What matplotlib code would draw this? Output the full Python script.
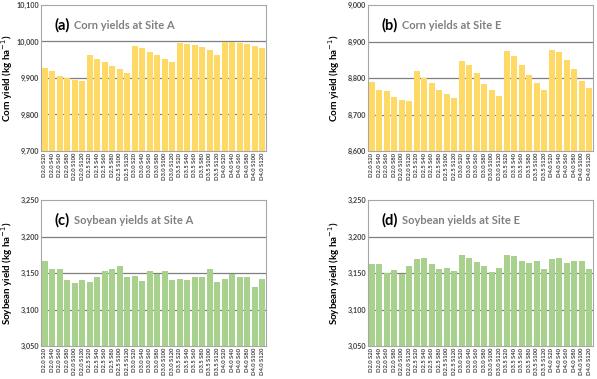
import numpy as np
import matplotlib
matplotlib.use('Agg')
import matplotlib.pyplot as plt

plt.rcParams['font.family'] = ['Lato', 'DejaVu Sans']

depths = ['D2.0', 'D2.5', 'D3.0', 'D3.5', 'D4.0']
spacings = ['S20', 'S40', 'S60', 'S80', 'S100', 'S120']
labels = [f'{d} {s}' for d in depths for s in spacings]

corn_a = [9928, 9919, 9906, 9900, 9894, 9891,
          9963, 9953, 9944, 9934, 9925, 9914,
          9988, 9983, 9972, 9964, 9952, 9944,
          9996, 9994, 9990, 9984, 9977, 9964,
          9999, 9999, 9995, 9993, 9987, 9982]
corn_e = [8790, 8768, 8764, 8748, 8740, 8736,
          8819, 8800, 8786, 8768, 8757, 8744,
          8847, 8835, 8813, 8784, 8767, 8750,
          8873, 8859, 8836, 8809, 8786, 8768,
          8878, 8871, 8848, 8824, 8793, 8772]
soy_a = [3166, 3155, 3155, 3140, 3136, 3141,
         3138, 3145, 3153, 3156, 3159, 3145,
         3146, 3139, 3153, 3149, 3153, 3140,
         3142, 3140, 3144, 3145, 3155, 3138,
         3142, 3148, 3145, 3145, 3131, 3142]
soy_e = [3162, 3162, 3150, 3154, 3148, 3160,
         3169, 3170, 3163, 3156, 3157, 3153,
         3174, 3171, 3165, 3160, 3151, 3157,
         3174, 3173, 3167, 3164, 3167, 3156,
         3169, 3171, 3164, 3166, 3167, 3156]

panels = [
    ('(a)', 'Corn yields at Site A', corn_a, (9700, 10100), 100, '#FFD966', 'Corn yield (kg ha$^{-1}$)'),
    ('(b)', 'Corn yields at Site E', corn_e, (8600, 9000), 100, '#FFD966', 'Corn yield (kg ha$^{-1}$)'),
    ('(c)', 'Soybean yields at Site A', soy_a, (3050, 3250), 50, '#A9D18E', 'Soybean yield (kg ha$^{-1}$)'),
    ('(d)', 'Soybean yields at Site E', soy_e, (3050, 3250), 50, '#A9D18E', 'Soybean yield (kg ha$^{-1}$)'),
]

W, H = 597, 379
fig = plt.figure(figsize=(W / 100, H / 100), dpi=100)
boxes = [(41, 5), (368, 5), (41, 200), (368, 200)]
aw, ah = 225, 146

x = np.arange(len(labels))
for (tag, title, vals, ylim, step, color, ylabel), (l, t) in zip(panels, boxes):
    ax = fig.add_axes([l / W, 1 - (t + ah) / H, aw / W, ah / H])
    ax.bar(x, np.array(vals) - ylim[0], bottom=ylim[0], width=0.78, color=color, zorder=3)
    ax.set_xlim(-0.5, len(labels) - 0.5)
    ax.set_ylim(*ylim)
    ticks = np.arange(ylim[0], ylim[1] + 1, step)
    ax.set_yticks(ticks)
    ax.set_yticklabels([f'{v:,}' for v in ticks], fontsize=5.2, fontweight='bold', color='#404040')
    for v in ticks[1:-1]:
        ax.axhline(v, color='#7f7f7f', lw=0.9, zorder=1)
    ax.set_xticks(x)
    ax.set_xticklabels(labels, rotation=90, fontsize=4.2, fontweight='bold', color='#404040')
    ax.tick_params(length=0, pad=1.5)
    for sp in ax.spines.values():
        sp.set_color('#a6a6a6')
        sp.set_linewidth(0.8)
    ax.set_ylabel(ylabel, fontsize=7, fontweight='bold')
    ax.yaxis.set_label_coords(-0.115, 0.5)
    t1 = ax.text(0.06, 0.86, tag, transform=ax.transAxes, fontsize=10.5,
                 fontweight='bold', va='center', ha='left', zorder=5)
    ax.annotate(title, xy=(1, 0.5), xycoords=t1, xytext=(3, 0), textcoords='offset points',
                fontsize=8, color='#808080', fontweight='bold', va='center', ha='left', zorder=5)

fig.savefig('out.png', dpi=100)
